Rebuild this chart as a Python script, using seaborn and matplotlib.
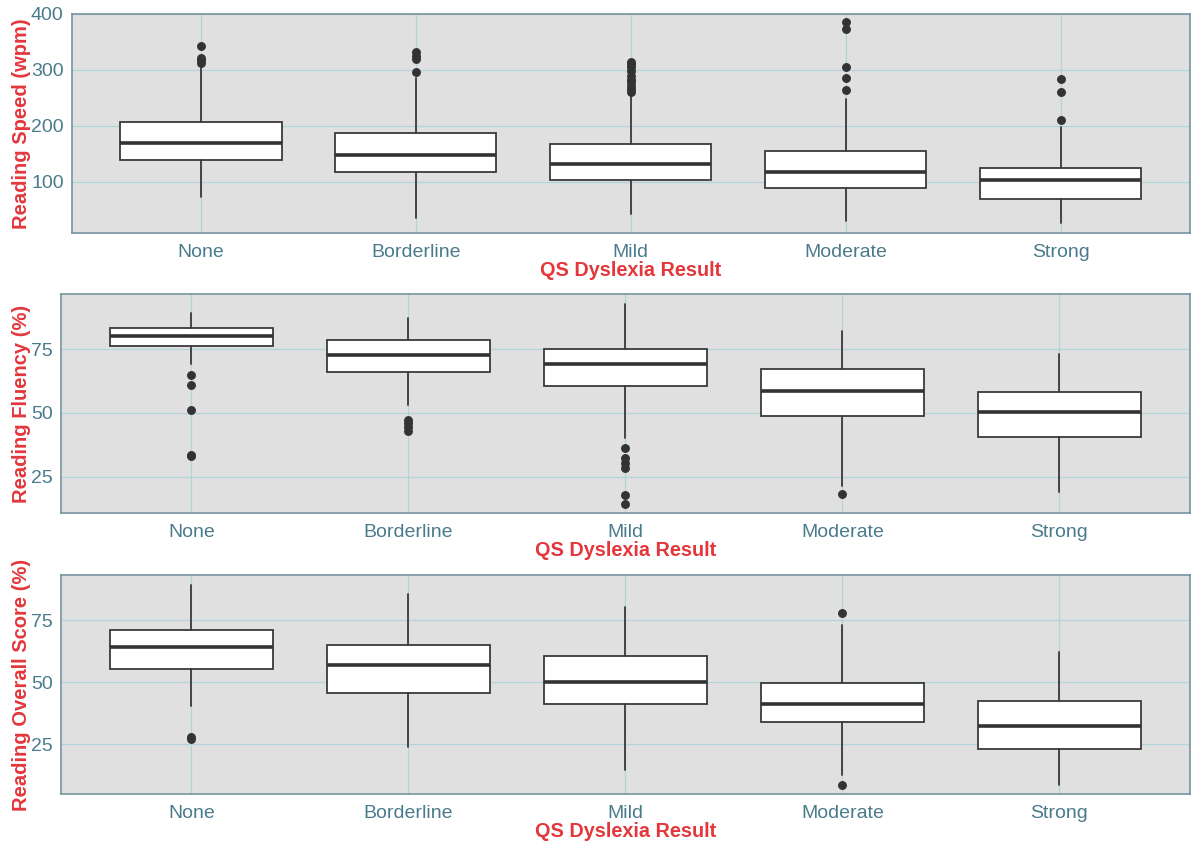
"""Reading measures by QS dyslexia result, drawn as boxplots"""

import matplotlib
matplotlib.use("Agg")
import matplotlib.pyplot as plt
import seaborn as sns

categories = ["None", "Borderline", "Mild", "Moderate", "Strong"]

# Reading speed (wpm)
speed_q1 = [139, 118, 104, 89, 70]
speed_med = [170, 149, 133, 118, 103]
speed_q3 = [207, 187, 167, 155, 125]
speed_lo = [74, 35, 43, 31, 27]
speed_hi = [309, 285, 252, 249, 198]
speed_out = [
    [343, 322, 318, 313],
    [333, 325, 320, 296],
    [315, 310, 305, 298, 290, 283, 278, 272, 266, 260],
    [386, 374, 306, 286, 264],
    [284, 261, 211],
]

# Reading fluency (%)
fluency_q1 = [76.2, 65.9, 60.7, 48.6, 40.4]
fluency_med = [80.0, 72.7, 69.0, 58.7, 50.4]
fluency_q3 = [83.1, 78.5, 75.0, 67.3, 58.1]
fluency_lo = [69.0, 53.1, 40.1, 21.5, 19.0]
fluency_hi = [89.0, 87.0, 92.5, 82.0, 73.2]
fluency_out = [
    [65.0, 61.0, 51.2, 33.5, 33.0],
    [47.3, 46.0, 44.5, 43.0],
    [36.4, 32.3, 30.3, 28.4, 18.0, 14.3],
    [18.2],
    [],
]

# Reading overall score (%)
overall_q1 = [55.1, 45.4, 41.1, 33.9, 23.1]
overall_med = [64.1, 57.1, 50.0, 41.1, 32.3]
overall_q3 = [71.2, 65.0, 60.7, 49.8, 42.5]
overall_lo = [40.2, 23.6, 14.6, 12.6, 8.6]
overall_hi = [89.2, 85.5, 80.2, 73.1, 62.3]
overall_out = [
    [27.8, 27.2],
    [],
    [],
    [77.7, 8.6],
    [],
]

RED = "#e3373c"
TEAL = "#4a7b8c"
SPINE = "#74959f"
GRID = "#b2d3d8"
TICK = "#f0b43c"


def make_stats(q1, med, q3, lo, hi, out):
    return [
        {"q1": a, "med": m, "q3": b, "whislo": w0, "whishi": w1, "fliers": f}
        for a, m, b, w0, w1, f in zip(q1, med, q3, lo, hi, out)
    ]


def draw_panel(ax, stats, ylabel, ylim, yticks):
    ax.bxp(
        stats,
        positions=range(len(categories)),
        widths=0.75,
        showcaps=False,
        patch_artist=True,
        boxprops=dict(facecolor="white", edgecolor="#3a3a3a", linewidth=1.3),
        medianprops=dict(color="#333333", linewidth=2.6),
        whiskerprops=dict(color="#3a3a3a", linewidth=1.3),
        flierprops=dict(marker="o", markersize=5.4, markerfacecolor="#333333",
                        markeredgecolor="#333333"),
        zorder=3,
    )
    ax.set_xlim(-0.6, len(categories) - 0.4)
    ax.set_ylim(*ylim)
    ax.set_xticks(range(len(categories)))
    ax.set_xticklabels(categories)
    ax.set_yticks(yticks)
    ax.set_xlabel("QS Dyslexia Result", color=RED, fontweight="bold",
                  fontsize=14.3, labelpad=0)
    ax.set_ylabel(ylabel, color=RED, fontweight="bold", fontsize=14.5,
                  labelpad=0)
    ax.tick_params(axis="both", colors=TICK, labelcolor=TEAL, labelsize=14,
                   length=4, width=1.2)
    ax.tick_params(axis="x", pad=4)
    ax.tick_params(axis="y", pad=2)
    ax.grid(True, color=GRID, linewidth=0.9)
    ax.set_axisbelow(True)
    for side in ax.spines.values():
        side.set_color(SPINE)
        side.set_linewidth(1.2)


def main() -> None:
    sns.set_theme(style="darkgrid", rc={"axes.facecolor": "#e0e0e0"})
    plt.rcParams["font.family"] = ["Liberation Sans", "DejaVu Sans"]

    fig = plt.figure(figsize=(11.92, 8.43), dpi=100)
    ax1 = fig.add_axes([0.0604, 0.7236, 0.9376, 0.2598])
    ax2 = fig.add_axes([0.0512, 0.3910, 0.9468, 0.2602])
    ax3 = fig.add_axes([0.0512, 0.0578, 0.9468, 0.2597])

    draw_panel(ax1, make_stats(speed_q1, speed_med, speed_q3, speed_lo,
                               speed_hi, speed_out),
               "Reading Speed (wpm)", (8.9, 400), [100, 200, 300, 400])
    draw_panel(ax2, make_stats(fluency_q1, fluency_med, fluency_q3,
                               fluency_lo, fluency_hi, fluency_out),
               "Reading Fluency (%)", (10.7, 96.5), [25, 50, 75])
    draw_panel(ax3, make_stats(overall_q1, overall_med, overall_q3,
                               overall_lo, overall_hi, overall_out),
               "Reading Overall Score (%)", (4.7, 93.1), [25, 50, 75])

    fig.savefig("out.png", dpi=100)


if __name__ == "__main__":
    main()
